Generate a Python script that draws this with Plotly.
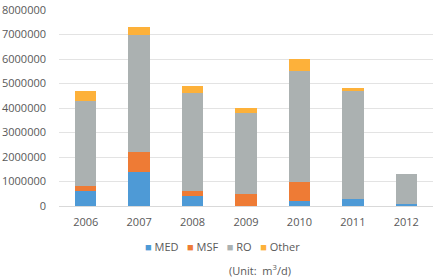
import plotly.graph_objects as go

years = ["2006", "2007", "2008", "2009", "2010", "2011", "2012"]
med = [600000, 1400000, 400000, 0, 200000, 300000, 100000]
msf = [200000, 800000, 200000, 500000, 800000, 0, 0]
ro = [3500000, 4800000, 4000000, 3300000, 4500000, 4400000, 1200000]
other = [400000, 300000, 300000, 200000, 500000, 100000, 0]

series = [("MED", med, "#4E9AD6"), ("MSF", msf, "#EE7B35"),
          ("RO", ro, "#ABB1B1"), ("Other", other, "#FDB13A")]

fig = go.Figure()
for name, vals, col in series:
    fig.add_trace(go.Bar(x=years, y=vals, name=name, marker_color=col,
                         marker_line_width=0, showlegend=False))

font = dict(family="Open Sans, sans-serif", size=11, color="#595959")

legend_text = "&nbsp;&nbsp;&nbsp;".join(
    f"<span style='color:{c}'>■</span> {n}" for n, _, c in series)

fig.update_layout(
    barmode="stack", bargap=0.6,
    width=435, height=280,
    margin=dict(l=59, r=2, t=6, b=74),
    plot_bgcolor="white", paper_bgcolor="white",
    font=font,
    xaxis=dict(showgrid=False, showline=True, linecolor="#D9D9D9", linewidth=1,
               ticks="", tickfont=font, ticklabelstandoff=6),
    yaxis=dict(range=[0, 8000000], dtick=1000000, showgrid=True,
               gridcolor="#E3E3E3", gridwidth=1, zeroline=False,
               tickformat="d", tickfont=font, ticks="", ticklabelstandoff=12,
               ticklabeloverflow="allow"),
    annotations=[
        dict(text=legend_text, x=0.437, y=-0.207, xref="paper", yref="paper",
             showarrow=False, xanchor="center", yanchor="middle", font=font),
        dict(text="(Unit:  m<sup>3</sup>/d)", x=0.537, y=-0.327,
             xref="paper", yref="paper", showarrow=False,
             xanchor="center", yanchor="middle", font=font)],
)
fig.write_html("out.html")
